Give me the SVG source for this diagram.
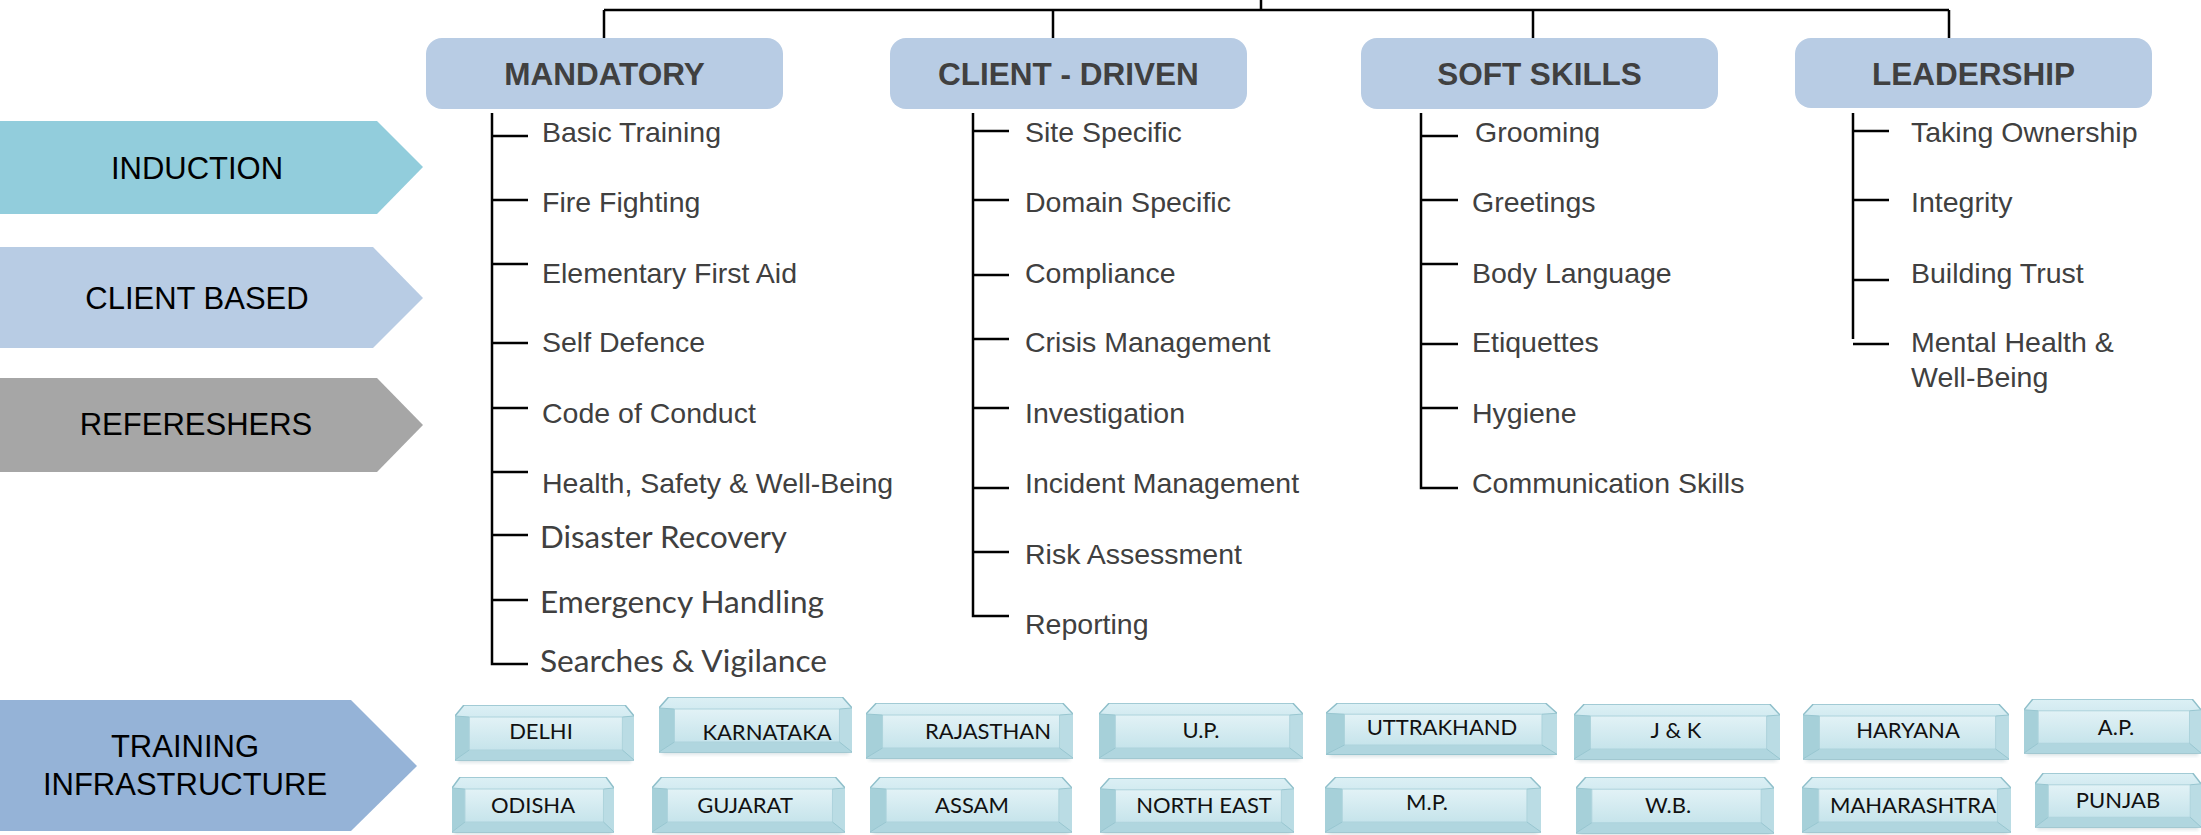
<svg xmlns="http://www.w3.org/2000/svg" width="2201" height="835" viewBox="0 0 2201 835">
<defs>
<style>
.hdr{fill:#b8cce4}
.hdrt{font-family:"Liberation Sans",Arial,sans-serif;font-weight:bold;font-size:31.5px;fill:#404040;text-anchor:middle}
.item{font-family:"Liberation Sans",Arial,sans-serif;font-size:28.5px;fill:#404040}
.itemc{font-family:Lato,"Liberation Sans",sans-serif;font-size:31px;fill:#404040}
.chev{font-family:"Liberation Sans",Arial,sans-serif;font-size:31px;fill:#000;text-anchor:middle}
.ln{stroke:#000;stroke-width:2.5;fill:none}
.btnt{font-family:Lato,"Liberation Sans",sans-serif;font-size:22px;fill:#111;text-anchor:middle}
</style>
<linearGradient id="gO" x1="0" y1="0" x2="0" y2="1"><stop offset="0" stop-color="#dcf0f5"/><stop offset="1" stop-color="#b2d8e1"/></linearGradient>
<linearGradient id="gI" x1="0" y1="0" x2="0" y2="1"><stop offset="0" stop-color="#e2f2f6"/><stop offset="1" stop-color="#c6e4eb"/></linearGradient>
<filter id="sh" x="-10%" y="-50%" width="120%" height="200%"><feGaussianBlur stdDeviation="2"/></filter>
<symbol id="btn" viewBox="0 0 200 60" preserveAspectRatio="none">
<rect x="3" y="50" width="194" height="7" fill="#8aa7ae" opacity="0.4" filter="url(#sh)"/>
<path d="M10,0 H190 L200,11 V55 H0 V11 Z" fill="url(#gO)" stroke="#8fbfca" stroke-width="1.5" vector-effect="non-scaling-stroke"/>
<polygon points="0,11 16,12 16,45 0,55" fill="#a6d0d9"/>
<polygon points="200,11 187,12 187,45 200,55" fill="#badce4"/>
<polygon points="0,55 16,45 187,45 200,55" fill="#b0d6df"/>
<rect x="16" y="12" width="171" height="33" fill="url(#gI)" stroke="#add3dc" stroke-width="1" vector-effect="non-scaling-stroke"/>
<path d="M0,11 L16,12 M200,11 L187,12 M0,55 L16,45 M200,55 L187,45" stroke="#98c6d0" stroke-width="1" vector-effect="non-scaling-stroke" fill="none"/>
</symbol>
</defs>
<rect width="2201" height="835" fill="#fff"/>

<g id="connectors">
<path class="ln" d="M1261,0 V10 M604,10 H1949 M604,10 V40 M1053,10 V40 M1533,10 V40 M1949,10 V40"/>
<path class="ln" d="M492,113 V664 H528 M492,136 H528 M492,200 H528 M492,264 H528 M492,343 H528 M492,408 H528 M492,472 H528 M492,535 H528 M492,600 H528"/>
<path class="ln" d="M973,113 V616 H1009 M973,131 H1009 M973,200 H1009 M973,275 H1009 M973,339 H1009 M973,408 H1009 M973,488 H1009 M973,552 H1009"/>
<path class="ln" d="M1421,113 V488 H1458 M1421,136 H1458 M1421,200 H1458 M1421,264 H1458 M1421,344 H1458 M1421,408 H1458"/>
<path class="ln" d="M1853,113 V339 M1853,131 H1889 M1853,200 H1889 M1853,280 H1889 M1853,344 H1889"/>
</g>

<g id="hdr-mandatory"><rect class="hdr" x="426" y="38" width="357" height="71" rx="16"/><text class="hdrt" x="604.5" y="85">MANDATORY</text></g>
<g id="hdr-client-driven"><rect class="hdr" x="890" y="38" width="357" height="71" rx="16"/><text class="hdrt" x="1068.5" y="85">CLIENT - DRIVEN</text></g>
<g id="hdr-soft-skills"><rect class="hdr" x="1361" y="38" width="357" height="71" rx="16"/><text class="hdrt" x="1539.5" y="85">SOFT SKILLS</text></g>
<g id="hdr-leadership"><rect class="hdr" x="1795" y="38" width="357" height="70" rx="16"/><text class="hdrt" x="1973.5" y="85">LEADERSHIP</text></g>

<g id="items-mandatory">
<text class="item" x="542" y="142">Basic Training</text>
<text class="item" x="542" y="212">Fire Fighting</text>
<text class="item" x="542" y="283">Elementary First Aid</text>
<text class="item" x="542" y="352">Self Defence</text>
<text class="item" x="542" y="423">Code of Conduct</text>
<text class="item" x="542" y="493">Health, Safety &amp; Well-Being</text>
<text class="itemc" x="540" y="548" textLength="247" lengthAdjust="spacingAndGlyphs">Disaster Recovery</text>
<text class="itemc" x="540" y="613" textLength="284" lengthAdjust="spacingAndGlyphs">Emergency Handling</text>
<text class="itemc" x="540" y="672" textLength="287" lengthAdjust="spacingAndGlyphs">Searches &amp; Vigilance</text>
</g>
<g id="items-client-driven">
<text class="item" x="1025" y="142">Site Specific</text>
<text class="item" x="1025" y="212">Domain Specific</text>
<text class="item" x="1025" y="283">Compliance</text>
<text class="item" x="1025" y="352">Crisis Management</text>
<text class="item" x="1025" y="423">Investigation</text>
<text class="item" x="1025" y="493">Incident Management</text>
<text class="item" x="1025" y="564">Risk Assessment</text>
<text class="item" x="1025" y="634">Reporting</text>
</g>
<g id="items-soft-skills">
<text class="item" x="1475" y="142">Grooming</text>
<text class="item" x="1472" y="212">Greetings</text>
<text class="item" x="1472" y="283">Body Language</text>
<text class="item" x="1472" y="352">Etiquettes</text>
<text class="item" x="1472" y="423">Hygiene</text>
<text class="item" x="1472" y="493">Communication Skills</text>
</g>
<g id="items-leadership">
<text class="item" x="1911" y="142">Taking Ownership</text>
<text class="item" x="1911" y="212">Integrity</text>
<text class="item" x="1911" y="283">Building Trust</text>
<text class="item" x="1911" y="352">Mental Health &amp;</text>
<text class="item" x="1911" y="387">Well-Being</text>
</g>

<g id="chev-induction"><polygon points="0,121 377,121 423,167 377,214 0,214" fill="#92cddc"/><text class="chev" x="197" y="179">INDUCTION</text></g>
<g id="chev-client-based"><polygon points="0,247 373,247 423,298 373,348 0,348" fill="#b8cce4"/><text class="chev" x="197" y="309">CLIENT BASED</text></g>
<g id="chev-refreshers"><polygon points="0,378 377,378 423,425 377,472 0,472" fill="#a6a6a6"/><text class="chev" x="196" y="435">REFERESHERS</text></g>
<g id="chev-training"><polygon points="0,700 351,700 417,766 351,831 0,831" fill="#95b3d7"/><text class="chev" x="185" y="757">TRAINING</text><text class="chev" x="185" y="795">INFRASTRUCTURE</text></g>

<g id="btn-delhi"><use href="#btn" x="455" y="705" width="179" height="60"/><text class="btnt" x="541" y="739">DELHI</text></g>
<g id="btn-karnataka"><use href="#btn" x="659" y="697" width="193" height="60"/><text class="btnt" x="767" y="740">KARNATAKA</text></g>
<g id="btn-rajasthan"><use href="#btn" x="866" y="703" width="207" height="60"/><text class="btnt" x="988" y="739">RAJASTHAN</text></g>
<g id="btn-up"><use href="#btn" x="1099" y="703" width="204" height="60"/><text class="btnt" x="1201" y="738">U.P.</text></g>
<g id="btn-uttrakhand"><use href="#btn" x="1326" y="703" width="231" height="56"/><text class="btnt" x="1442" y="735">UTTRAKHAND</text></g>
<g id="btn-jk"><use href="#btn" x="1574" y="704" width="206" height="60"/><text class="btnt" x="1676" y="738">J &amp; K</text></g>
<g id="btn-haryana"><use href="#btn" x="1803" y="704" width="206" height="60"/><text class="btnt" x="1908" y="738">HARYANA</text></g>
<g id="btn-ap"><use href="#btn" x="2024" y="699" width="177" height="59"/><text class="btnt" x="2116" y="735">A.P.</text></g>
<g id="btn-odisha"><use href="#btn" x="452" y="777" width="162" height="60"/><text class="btnt" x="533" y="813">ODISHA</text></g>
<g id="btn-gujarat"><use href="#btn" x="652" y="777" width="193" height="60"/><text class="btnt" x="745" y="813">GUJARAT</text></g>
<g id="btn-assam"><use href="#btn" x="870" y="777" width="202" height="60"/><text class="btnt" x="972" y="813">ASSAM</text></g>
<g id="btn-northeast"><use href="#btn" x="1100" y="778" width="194" height="59"/><text class="btnt" x="1204" y="813">NORTH EAST</text></g>
<g id="btn-mp"><use href="#btn" x="1325" y="777" width="216" height="60"/><text class="btnt" x="1427" y="810">M.P.</text></g>
<g id="btn-wb"><use href="#btn" x="1576" y="777" width="198" height="61"/><text class="btnt" x="1668" y="813">W.B.</text></g>
<g id="btn-maharashtra"><use href="#btn" x="1802" y="777" width="209" height="60"/><text class="btnt" x="1913" y="813">MAHARASHTRA</text></g>
<g id="btn-punjab"><use href="#btn" x="2035" y="773" width="166" height="59"/><text class="btnt" x="2118" y="808">PUNJAB</text></g>
</svg>
